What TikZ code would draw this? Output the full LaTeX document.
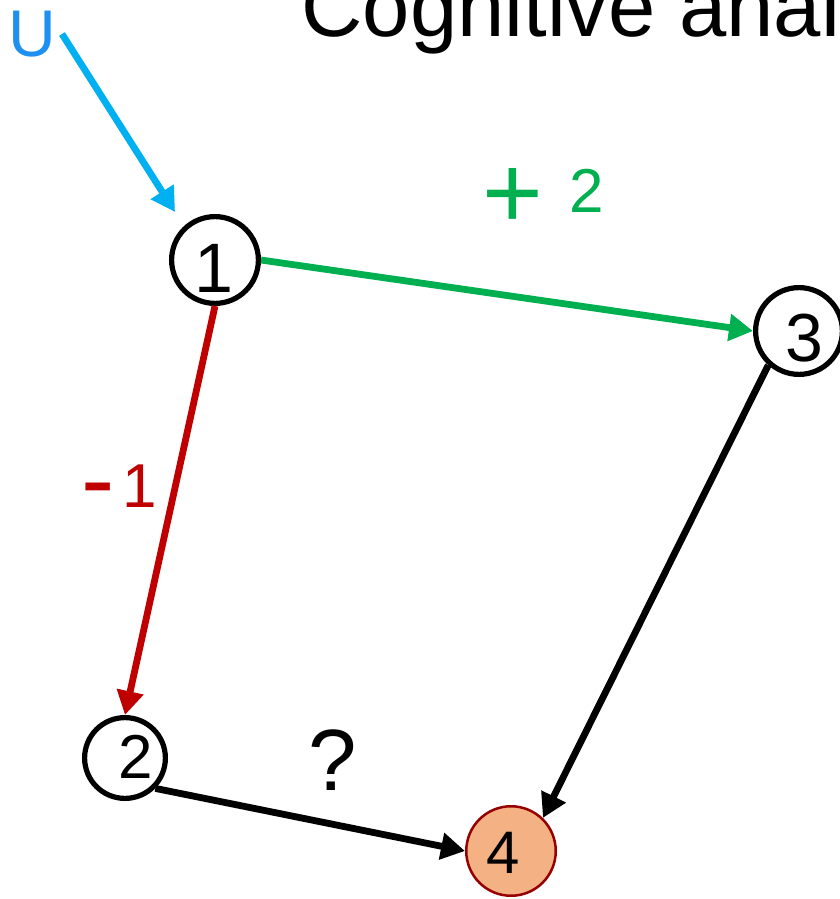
\documentclass[tikz,border=0pt]{standalone}
\usepackage{fontspec}
\setmainfont{Liberation Sans}
\usetikzlibrary{arrows.meta}
\definecolor{gr}{RGB}{0,176,80}
\definecolor{rd}{RGB}{192,0,0}
\definecolor{cy}{RGB}{0,176,240}
\definecolor{ublue}{RGB}{30,144,240}
\definecolor{dred}{RGB}{150,0,0}
\definecolor{orfill}{RGB}{244,177,131}
\begin{document}
\begin{tikzpicture}[x=0.5pt,y=-0.5pt,
  circ/.style={circle,draw,line width=2.6pt,inner sep=0pt,minimum size=43.4pt},
  digit/.style={inner sep=0pt,font=\fontsize{35pt}{35pt}\selectfont},
  conn/.style={line width=3.4pt,-{Triangle[length=12pt,width=13pt]}},
  txt/.style={inner sep=0pt,anchor=base west}]
\useasboundingbox (0,0) rectangle (840,899);
\clip (0,0) rectangle (840,899);
% title
\node[txt,font=\fontsize{42.5pt}{42.5pt}\selectfont] (title) at (301,37) {Cognitive anal};
% U input
\node[txt,text=ublue,font=\fontsize{33pt}{33pt}\selectfont] (U) at (8,57) {U};
\coordinate (us) at (62,34);
\coordinate (ue) at (175,212);
\draw[conn,cy] (us) -- (ue);
% nodes
\node[circ] (n1) at (215,260) {};
\node[circ] (n3) at (799,331) {};
\node[circ,minimum size=40.4pt] (n2) at (125,758) {};
\node[circ,minimum size=44.75pt,line width=1.25pt,draw=dred,fill=orfill] (n4) at (511,851) {};
\node[digit] (t1) at (214,268) {1};
\node[digit,font=\fontsize{34pt}{34pt}\selectfont] (t3) at (804,338) {3};
\node[digit,font=\fontsize{31pt}{31pt}\selectfont] (t2) at (136,757) {2};
\node[digit,font=\fontsize{30pt}{30pt}\selectfont] (t4) at (503,853) {4};
% connectors
\draw[conn,gr] (n1.east) -- (n3.west);
\draw[conn,rd] (n1.south) -- (n2.north);
\draw[conn] (n3.228) -- (n4.46);
\draw[conn] (n2.-45) -- (n4.west);
% labels
\node[txt,text=gr] (lplus) at (482,212) {\raisebox{-8.5pt}{\fontsize{52pt}{52pt}\selectfont +}\hspace{13pt}\fontsize{31pt}{31pt}\selectfont 2};
\node[txt,text=rd] (lminus) at (81,507) {\raisebox{-3pt}{\fontsize{50pt}{50pt}\selectfont -}\hspace{4pt}\fontsize{31pt}{31pt}\selectfont 1};
\node[txt,font=\fontsize{43.5pt}{43.5pt}\selectfont] (q) at (308,790) {?};
\end{tikzpicture}
\end{document}
